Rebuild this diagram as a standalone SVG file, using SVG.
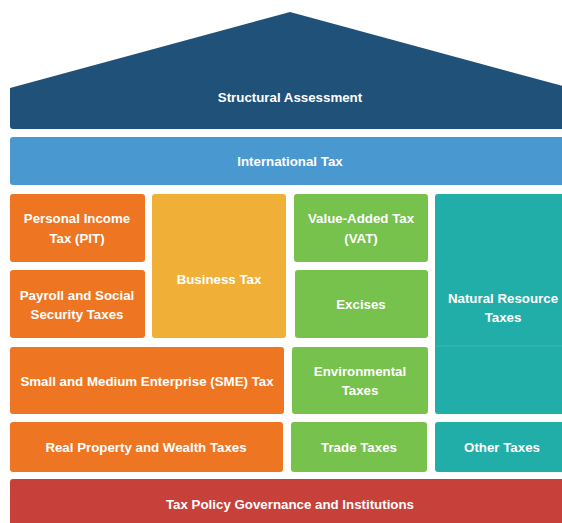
<svg xmlns="http://www.w3.org/2000/svg" width="562" height="523" viewBox="0 0 562 523">
<style>
text{font-family:"Liberation Sans",Arial,sans-serif;font-weight:bold;font-size:13.3px;fill:#ffffff;text-anchor:middle;dominant-baseline:central}
.or{fill:#ee7623}.ye{fill:#f0b038}.gr{fill:#77c14d}.te{fill:#22aea8}
</style>
<rect width="562" height="523" fill="#ffffff"/>
<g id="roof">
<path d="M10,88 L290,12 L570,88 L570,126 Q570,129 567,129 L13,129 Q10,129 10,126 Z" fill="#1f5179"/>
<text x="290" y="97">Structural Assessment</text>
</g>
<g id="international">
<rect x="10" y="137" width="560" height="48" rx="3" fill="#4a98d0"/>
<text x="290" y="161">International Tax</text>
</g>
<g id="pit">
<rect class="or" x="10" y="194" width="135" height="68" rx="3"/>
<text x="77" y="218">Personal Income</text>
<text x="77" y="238">Tax (PIT)</text>
</g>
<g id="payroll">
<rect class="or" x="10" y="270" width="135" height="68" rx="3"/>
<text x="77" y="295">Payroll and Social</text>
<text x="77" y="314">Security Taxes</text>
</g>
<g id="business">
<rect class="ye" x="152" y="194" width="134" height="144" rx="3"/>
<text x="219" y="279">Business Tax</text>
</g>
<g id="vat">
<rect class="gr" x="294" y="194" width="134" height="68" rx="3"/>
<text x="361" y="218">Value-Added Tax</text>
<text x="361" y="238">(VAT)</text>
</g>
<g id="excises">
<rect class="gr" x="295" y="270" width="133" height="68" rx="3"/>
<text x="361" y="304">Excises</text>
</g>
<g id="natural">
<rect class="te" x="435" y="194" width="135" height="220" rx="3"/>
<line x1="436" y1="346" x2="570" y2="346" stroke="#4cc0ba" stroke-width="1" opacity="0.6"/>
<text x="503" y="298">Natural Resource</text>
<text x="503" y="317">Taxes</text>
</g>
<g id="sme">
<rect class="or" x="10" y="347" width="274" height="67" rx="3"/>
<text x="147" y="381">Small and Medium Enterprise (SME) Tax</text>
</g>
<g id="environmental">
<rect class="gr" x="292" y="347" width="136" height="67" rx="3"/>
<text x="360" y="371">Environmental</text>
<text x="360" y="390">Taxes</text>
</g>
<g id="property">
<rect class="or" x="10" y="422" width="273" height="50" rx="3"/>
<text x="146" y="447">Real Property and Wealth Taxes</text>
</g>
<g id="trade">
<rect class="gr" x="291" y="422" width="136" height="50" rx="3"/>
<text x="359" y="447">Trade Taxes</text>
</g>
<g id="other">
<rect class="te" x="435" y="422" width="135" height="50" rx="3"/>
<text x="502" y="447">Other Taxes</text>
</g>
<g id="governance">
<rect x="10" y="479" width="560" height="50" rx="3" fill="#c7403a"/>
<text x="290" y="504">Tax Policy Governance and Institutions</text>
</g>
<g id="connectors"></g>
</svg>
